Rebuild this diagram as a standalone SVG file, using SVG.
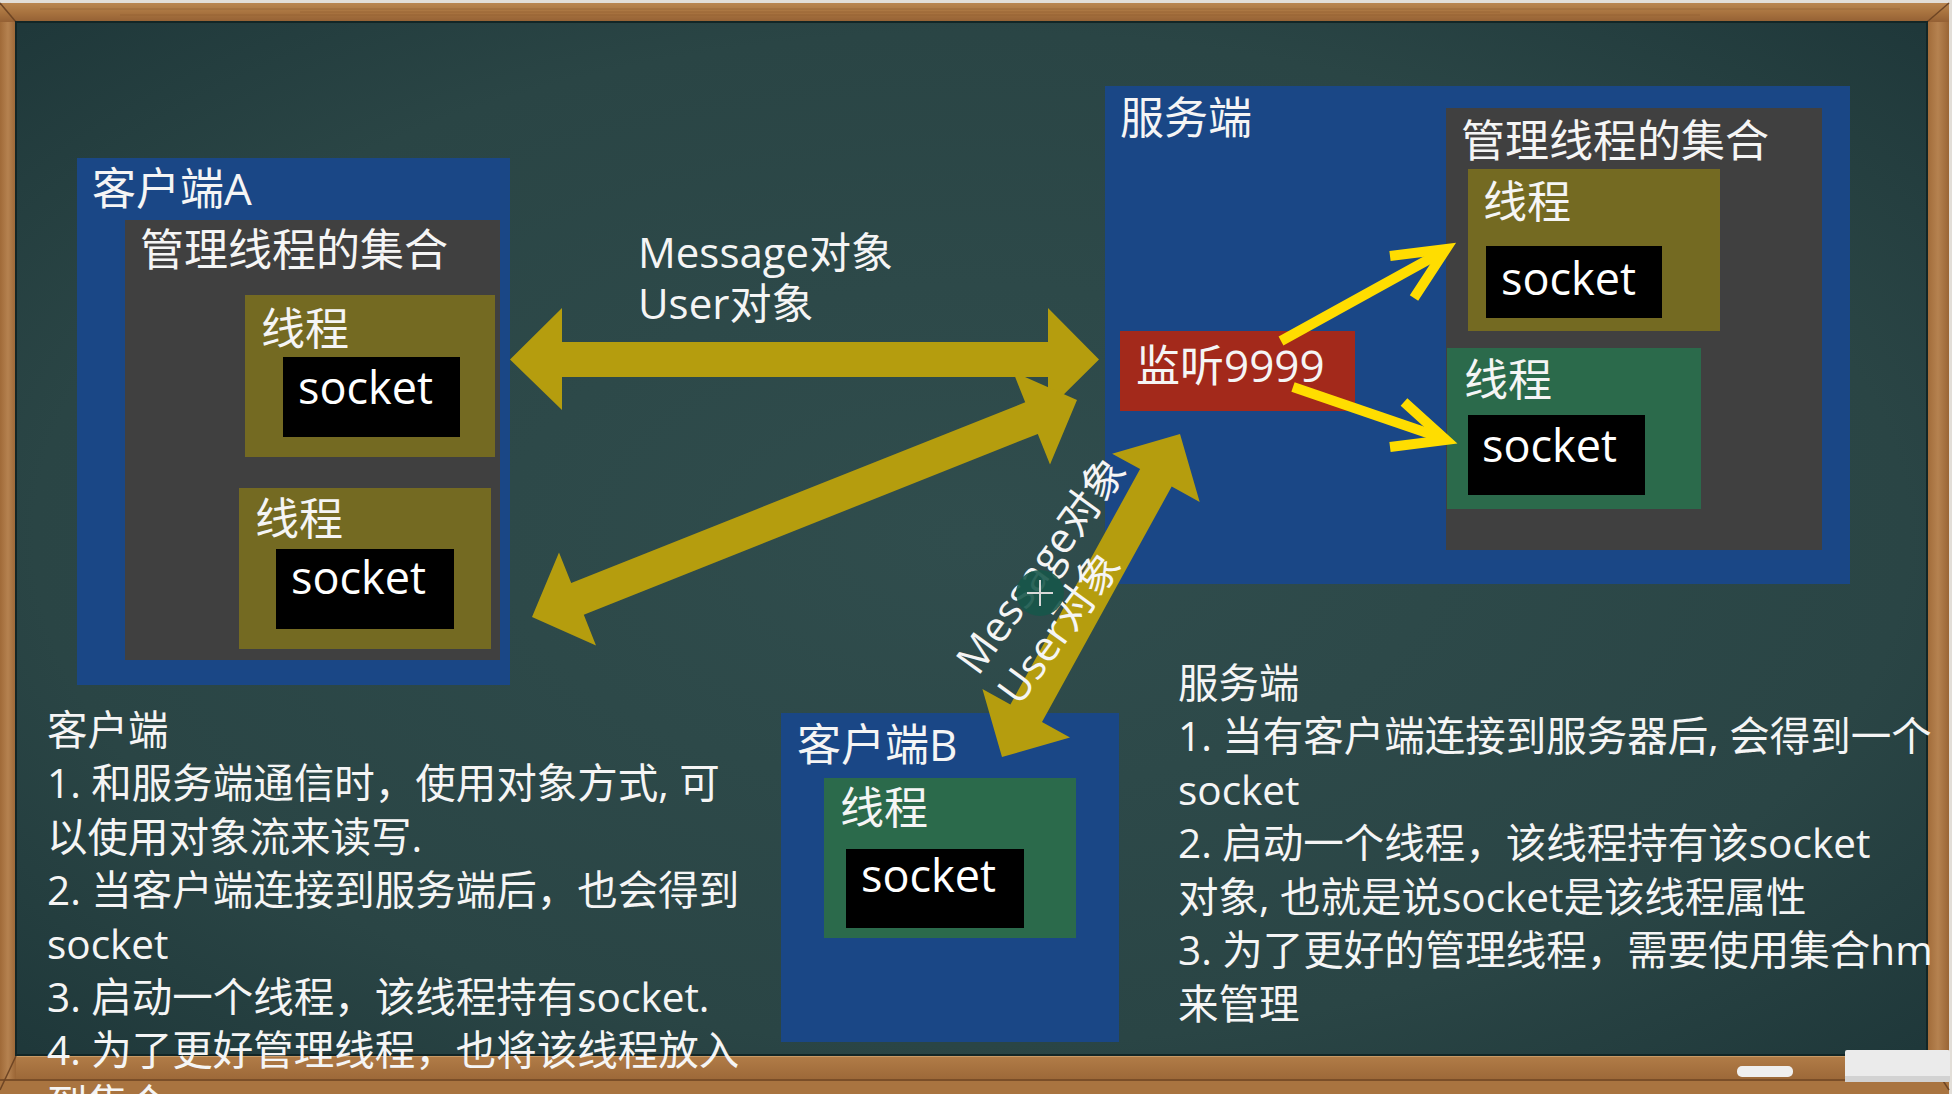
<svg xmlns="http://www.w3.org/2000/svg" width="1952" height="1094" viewBox="0 0 1952 1094">
<defs>
<radialGradient id="board" cx="50%" cy="50%" r="70%">
<stop offset="0" stop-color="#304d4d"/>
<stop offset="0.7" stop-color="#2a4545"/>
<stop offset="1" stop-color="#1f383a"/>
</radialGradient>
<linearGradient id="woodH" x1="0" y1="0" x2="0" y2="1">
<stop offset="0" stop-color="#b98650"/>
<stop offset="0.5" stop-color="#a8733f"/>
<stop offset="1" stop-color="#946034"/>
</linearGradient>
<linearGradient id="woodV" x1="0" y1="0" x2="1" y2="0">
<stop offset="0" stop-color="#a06a38"/>
<stop offset="0.5" stop-color="#b58250"/>
<stop offset="1" stop-color="#9a6535"/>
</linearGradient>
<linearGradient id="tray" x1="0" y1="0" x2="0" y2="1">
<stop offset="0" stop-color="#b27d48"/>
<stop offset="1" stop-color="#9c6838"/>
</linearGradient>
<style>
.t{font-family:"Open Sans","Noto Sans CJK SC",sans-serif;fill:#f5f5f5}
.l{font-size:44px}
.b{font-size:40.5px}
.m{font-size:42px}
.sk{font-size:45px;fill:#ffffff}
.blue{fill:#1a4786}
.gray{fill:#404040}
.olive{fill:#746a22}
.green{fill:#2b6a4b}
.blk{fill:#000000}
.gold{fill:#b59d0e}
.yel{fill:none;stroke:#ffdd00;stroke-width:10;stroke-linejoin:miter}
</style>
</defs>

<g id="frame">
<rect x="0" y="0" width="1952" height="1094" fill="#e2ded8"/>
<rect x="0" y="3" width="1949" height="1091" fill="url(#woodH)"/>
<rect x="0" y="3" width="16" height="1091" fill="url(#woodV)"/>
<rect x="1927" y="3" width="22" height="1091" fill="url(#woodV)"/>
<rect x="0" y="3" width="1949" height="19" fill="url(#woodH)"/>
<path d="M40 9 H1900 M120 15 H1700 M300 12 H1500" stroke="#8e5c30" stroke-width="1" opacity="0.5"/>
<rect x="16" y="1055" width="1911" height="25" fill="url(#tray)"/>
<rect x="0" y="1080" width="1949" height="14" fill="#a97440"/>
<line x1="0" y1="1080" x2="1949" y2="1080" stroke="#7a4e28" stroke-width="2"/>
<line x1="16" y1="1056" x2="1927" y2="1056" stroke="#c89a66" stroke-width="2"/>
<line x1="0" y1="3" x2="16" y2="22" stroke="#6e4524" stroke-width="1.5"/>
<line x1="1949" y1="3" x2="1927" y2="22" stroke="#6e4524" stroke-width="1.5"/>
<line x1="0" y1="1090" x2="16" y2="1056" stroke="#6e4524" stroke-width="1.5"/>
<line x1="1949" y1="1090" x2="1927" y2="1056" stroke="#6e4524" stroke-width="1.5"/>
<rect x="16" y="22" width="1911" height="1033" fill="url(#board)"/>
<rect x="16" y="22" width="1911" height="1033" fill="none" stroke="#132626" stroke-width="2"/>
<rect x="1737" y="1066" width="56" height="11" rx="5" fill="#efefef"/>
<rect x="1845" y="1050" width="105" height="32" rx="2" fill="#ebebeb"/>
<rect x="1845" y="1076" width="105" height="6" fill="#d2d2d2"/>
</g>

<g id="clientA">
<rect class="blue" x="77" y="158" width="433" height="527"/>
<text class="t l" x="92" y="205">客户端A</text>
<g id="clientA-collection">
<rect class="gray" x="125" y="220" width="375" height="440"/>
<text class="t l" x="140" y="266">管理线程的集合</text>
</g>
<g id="clientA-thread1">
<rect class="olive" x="245" y="295" width="250" height="162"/>
<text class="t l" x="261" y="345">线程</text>
<rect class="blk" x="283" y="357" width="177" height="80"/>
<text class="t sk" x="298" y="404">socket</text>
</g>
<g id="clientA-thread2">
<rect class="olive" x="239" y="488" width="252" height="161"/>
<text class="t l" x="255" y="535">线程</text>
<rect class="blk" x="276" y="549" width="178" height="80"/>
<text class="t sk" x="291" y="594">socket</text>
</g>
</g>

<g id="server">
<rect class="blue" x="1105" y="86" width="745" height="498"/>
<text class="t l" x="1120" y="134">服务端</text>
<g id="server-collection">
<rect class="gray" x="1446" y="108" width="376" height="442"/>
<text class="t l" x="1461" y="157">管理线程的集合</text>
</g>
<g id="server-thread1">
<rect class="olive" x="1468" y="169" width="252" height="162"/>
<text class="t l" x="1483" y="218">线程</text>
<rect class="blk" x="1486" y="246" width="176" height="72"/>
<text class="t sk" x="1501" y="295">socket</text>
</g>
<g id="server-thread2">
<rect class="green" x="1447" y="348" width="254" height="161"/>
<text class="t l" x="1464" y="396">线程</text>
<rect class="blk" x="1468" y="415" width="177" height="80"/>
<text class="t sk" x="1482" y="462">socket</text>
</g>
<g id="server-listen">
<rect x="1120" y="331" width="235" height="80" fill="#a3291b"/>
<text class="t l" x="1136" y="382">监听9999</text>
</g>
</g>

<g id="clientB">
<rect class="blue" x="781" y="713" width="338" height="329"/>
<text class="t l" x="797" y="761">客户端B</text>
<g id="clientB-thread">
<rect class="green" x="824" y="778" width="252" height="160"/>
<text class="t l" x="840" y="824">线程</text>
<rect class="blk" x="846" y="849" width="178" height="79"/>
<text class="t sk" x="861" y="892">socket</text>
</g>
</g>

<g id="connectors">
<polygon class="gold" points="510,359.5 562,308 562,342 1048,342 1048,308 1099,359.5 1048,410 1048,377 562,377 562,410"/>
<polygon class="gold" points="532,617 559,552.4 571.2,583.1 1025.2,402.3 1013,371.6 1077,400 1050,464.6 1037.8,433.9 583.8,614.7 596,645.4"/>
<polygon class="gold" points="1002,757 982.4,689 1010.4,704.5 1140.1,469.1 1112.1,453.7 1180,434 1199.7,502 1171.7,486.5 1042,721.9 1070,737.4"/>
<path class="yel" d="M1281 341 L1442 252"/>
<path class="yel" d="M1390 256 L1446 249 L1414 298"/>
<path class="yel" d="M1293 387 L1442 438"/>
<path class="yel" d="M1404 402 L1446 440 L1390 447"/>
<text class="t m" x="638" y="268">Message对象</text>
<text class="t m" x="638" y="319">User对象</text>
<g transform="translate(978,677) rotate(-54)">
<text class="t m" x="0" y="0">Message对象</text>
<text class="t m" x="0" y="51">User对象</text>
</g>
<ellipse cx="1040" cy="593" rx="24" ry="23" fill="#17574a" opacity="0.9"/>
<path d="M1040 580 V606 M1027 593 H1053" stroke="#d8d8d8" stroke-width="2"/>
</g>

<g id="client-notes">
<text class="t b" x="47" y="745">客户端</text>
<text class="t b" x="47" y="798">1. 和服务端通信时，使用对象方式, 可</text>
<text class="t b" x="47" y="852">以使用对象流来读写.</text>
<text class="t b" x="47" y="905">2. 当客户端连接到服务端后，也会得到</text>
<text class="t b" x="47" y="959">socket</text>
<text class="t b" x="47" y="1012">3. 启动一个线程，该线程持有socket.</text>
<text class="t b" x="47" y="1065">4. 为了更好管理线程，也将该线程放入</text>
<text class="t b" x="47" y="1119">到集合</text>
</g>

<g id="server-notes">
<text class="t b" x="1178" y="698">服务端</text>
<text class="t b" x="1178" y="751">1. 当有客户端连接到服务器后, 会得到一个</text>
<text class="t b" x="1178" y="805">socket</text>
<text class="t b" x="1178" y="858">2. 启动一个线程，该线程持有该socket</text>
<text class="t b" x="1178" y="912">对象, 也就是说socket是该线程属性</text>
<text class="t b" x="1178" y="965">3. 为了更好的管理线程，需要使用集合hm</text>
<text class="t b" x="1178" y="1019">来管理</text>
</g>
</svg>
